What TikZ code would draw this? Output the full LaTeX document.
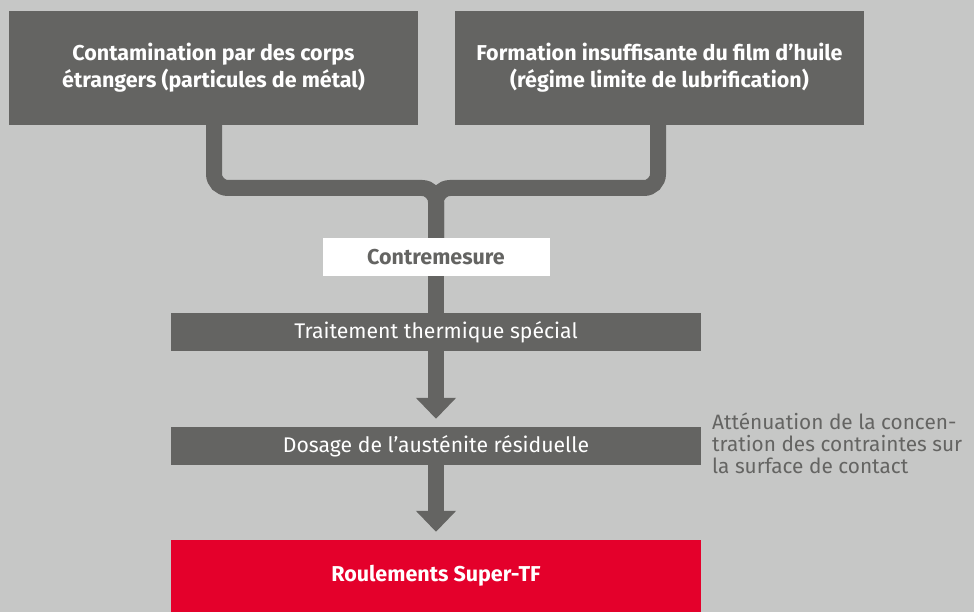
\documentclass[tikz,border=0pt]{standalone}
\usepackage{fontspec}
\setmainfont{Fira Sans}
\usetikzlibrary{arrows.meta}
\definecolor{bg}{HTML}{C6C7C6}
\definecolor{dark}{HTML}{646462}
\definecolor{nred}{HTML}{E4002B}
\begin{document}
\begin{tikzpicture}[x=1pt,y=-1pt,
  darkbox/.style={fill=dark,text=white,inner sep=0pt,align=center},
  topbox/.style={darkbox,minimum width=409pt,minimum height=114pt,font=\fontsize{21.5}{27}\selectfont\bfseries},
  stepbox/.style={darkbox,minimum width=530pt,minimum height=38pt,font=\fontsize{21.2}{22}\selectfont},
  whitebox/.style={fill=white,text=dark,minimum width=227pt,minimum height=38pt,inner sep=0pt,font=\fontsize{21.5}{22}\selectfont\bfseries},
  pipe/.style={draw=dark,line width=16pt,rounded corners=14pt},
  flow/.style={draw=dark,line width=16pt,-{Triangle[width=39pt,length=21pt]},shorten >=8pt}
]
\useasboundingbox[fill=bg] (0,0) rectangle (974,612);
\node[topbox] (left) at (213.5,68) {Contamination par des corps\\étrangers (particules de métal)};
\node[topbox] (right) at (659.5,68) {Formation insuffisante du film d’huile\\(régime limite de lubrification)};
\coordinate (j) at (436,188);
\node[stepbox] (trait) at (436,332) {Traitement thermique spécial};
\node[stepbox] (dos) at (436,446) {Dosage de l’austénite résiduelle};
\node[fill=nred,text=white,minimum width=530pt,minimum height=72pt,inner sep=0pt,font=\fontsize{21.5}{22}\selectfont\bfseries] (red) at (436,576) {Roulements Super-TF};
\node[anchor=north west,text=dark,align=left,inner sep=0pt,font=\fontsize{20.8}{22}\selectfont] (note) at (712,413) {Atténuation de la concen-\\tration des contraintes sur\\la surface de contact};
\path[pipe] (left.south -| 214,0) |- (j) -- (436,238);
\path[pipe] (right.south -| 658,0) |- (j) -- (436,238);
\path[draw=dark,line width=16pt] (436,238) -- (trait.north);
\node[whitebox] (contre) at (436,257) {Contremesure};
\path[flow] (trait.south) -- (dos.north);
\path[flow] (dos.south) -- (red.north);
\end{tikzpicture}
\end{document}
